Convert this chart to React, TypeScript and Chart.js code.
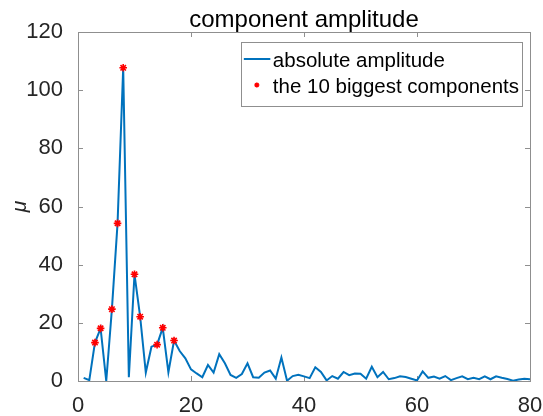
import React, { useEffect, useRef } from 'react';
import { Chart, registerables } from 'chart.js';

Chart.register(...registerables);

// Amplitude of harmonic k (k = 1..80)
const amplitude: number[] = [
  1.1, 0.3, 13.2, 18.1, 0.0, 24.7, 54.2, 107.7, 1.3, 36.7,
  22.1, 2.9, 11.8, 12.5, 18.3, 3.0, 13.9, 10.3, 7.8, 4.0,
  2.6, 1.3, 5.5, 2.9, 9.2, 6.1, 2.1, 1.1, 2.4, 6.1,
  1.3, 1.1, 2.9, 3.6, 0.8, 8.1, 0.1, 1.7, 2.1, 1.6,
  1.0, 4.7, 3.1, 0.2, 1.7, 0.8, 3.1, 2.0, 2.6, 2.5,
  0.8, 4.9, 1.3, 3.1, 0.6, 1.0, 1.6, 1.4, 0.8, 0.2,
  3.3, 1.1, 1.5, 0.8, 1.7, 0.3, 1.0, 1.6, 0.6, 1.1,
  0.6, 1.6, 0.6, 1.6, 1.1, 0.7, 0.1, 0.5, 0.8, 0.6,
];
const biggestHarmonics: number[] = [3, 4, 6, 7, 8, 10, 11, 14, 15, 17];
const xTicks: number[] = [0, 20, 40, 60, 80];
const yTicks: number[] = [0, 20, 40, 60, 80, 100, 120];

const titleText = 'component amplitude';
const yLabel = 'μ';
const lineLabel = 'absolute amplitude';
const starLabel = 'the 10 biggest components';

const FONT = '"Liberation Sans", Arial, Helvetica, sans-serif';
const LINE_COLOR = '#0072BD';
const STAR_COLOR = '#FF0000';
const AXIS_COLOR = '#8f8f8f';
const TEXT_COLOR = '#262626';

function drawStar(ctx: CanvasRenderingContext2D, x: number, y: number, r: number) {
  ctx.beginPath();
  ctx.moveTo(x - r, y);
  ctx.lineTo(x + r, y);
  ctx.moveTo(x, y - r);
  ctx.lineTo(x, y + r);
  const d = r * Math.SQRT1_2;
  ctx.moveTo(x - d, y - d);
  ctx.lineTo(x + d, y + d);
  ctx.moveTo(x - d, y + d);
  ctx.lineTo(x + d, y - d);
  ctx.stroke();
}

const boxPlugin = {
  id: 'matlabBox',
  beforeDatasetsDraw(chart: any) {
    const { ctx, chartArea, scales } = chart;
    const { left, right, top, bottom } = chartArea;
    ctx.save();
    ctx.strokeStyle = AXIS_COLOR;
    ctx.lineWidth = 1;
    ctx.strokeRect(Math.round(left) + 0.5, Math.round(top) + 0.5, Math.round(right - left), Math.round(bottom - top));
    const tl = 5;
    ctx.beginPath();
    xTicks.forEach((v) => {
      const px = Math.round(scales.x.getPixelForValue(v)) + 0.5;
      ctx.moveTo(px, bottom);
      ctx.lineTo(px, bottom - tl);
      ctx.moveTo(px, top);
      ctx.lineTo(px, top + tl);
    });
    yTicks.forEach((v) => {
      const py = Math.round(scales.y.getPixelForValue(v)) + 0.5;
      ctx.moveTo(left, py);
      ctx.lineTo(left + tl, py);
      ctx.moveTo(right, py);
      ctx.lineTo(right - tl, py);
    });
    ctx.stroke();
    ctx.restore();
  },
  afterDraw(chart: any) {
    const { ctx, chartArea } = chart;
    const ds = chart.data.datasets;
    ctx.save();
    ctx.font = `24px ${FONT}`;
    ctx.fillStyle = '#000000';
    ctx.textAlign = 'center';
    ctx.textBaseline = 'alphabetic';
    ctx.fillText(titleText, (chartArea.left + chartArea.right) / 2, 26.5);

    ctx.font = `20.5px ${FONT}`;
    const w1 = ctx.measureText(ds[0].label).width;
    const w2 = ctx.measureText(ds[1].label).width;
    const textOffset = 32;
    const boxW = textOffset + Math.max(w1, w2) + 3;
    const boxH = 64;
    const boxRight = Math.round(chartArea.right - 8.5);
    const boxTop = Math.round(chartArea.top + 9.5);
    const boxLeft = boxRight - boxW;
    ctx.fillStyle = '#ffffff';
    ctx.fillRect(boxLeft, boxTop, boxW, boxH);
    ctx.strokeStyle = AXIS_COLOR;
    ctx.lineWidth = 1;
    ctx.strokeRect(Math.round(boxLeft) + 0.5, boxTop + 0.5, Math.round(boxW), boxH);
    const y1 = boxTop + 17;
    const y2 = boxTop + 43;
    ctx.strokeStyle = LINE_COLOR;
    ctx.lineWidth = 2;
    ctx.beginPath();
    ctx.moveTo(boxLeft + 3, y1);
    ctx.lineTo(boxLeft + 29.5, y1);
    ctx.stroke();
    ctx.strokeStyle = STAR_COLOR;
    ctx.lineWidth = 1.5;
    drawStar(ctx, boxLeft + 16, y2, 2.5);
    ctx.fillStyle = '#000000';
    ctx.textBaseline = 'alphabetic';
    ctx.textAlign = 'left';
    ctx.fillText(ds[0].label, boxLeft + textOffset, y1 + 7.5);
    ctx.fillText(ds[1].label, boxLeft + textOffset, y2 + 7.5);
    ctx.restore();
  },
};

export default function App() {
  const canvasRef = useRef<HTMLCanvasElement | null>(null);

  useEffect(() => {
    if (!canvasRef.current) return;
    const lineData = amplitude.map((v, i) => ({ x: i + 1, y: v }));
    const starData = biggestHarmonics.map((k) => ({ x: k, y: amplitude[k - 1] }));
    const chart = new Chart(canvasRef.current, {
      type: 'line',
      data: {
        datasets: [
          {
            label: lineLabel,
            data: lineData,
            borderColor: LINE_COLOR,
            backgroundColor: LINE_COLOR,
            borderWidth: 2,
            pointRadius: 0,
            tension: 0,
            order: 2,
          },
          {
            label: starLabel,
            data: starData,
            showLine: false,
            pointStyle: 'star',
            pointRadius: 3.8,
            pointBorderWidth: 1.6,
            pointBorderColor: STAR_COLOR,
            pointBackgroundColor: STAR_COLOR,
            borderColor: STAR_COLOR,
            backgroundColor: STAR_COLOR,
            order: 1,
          },
        ],
      },
      options: {
        animation: false,
        responsive: false,
        devicePixelRatio: 1,
        layout: { padding: { left: 0, right: 13, top: 32, bottom: 0 } },
        plugins: {
          legend: { display: false },
          tooltip: { enabled: false },
          title: { display: false },
        },
        scales: {
          x: {
            type: 'linear',
            min: 0,
            max: 80,
            grid: { display: false },
            border: { display: false },
            afterBuildTicks: (scale: any) => {
              scale.ticks = xTicks.map((v) => ({ value: v }));
            },
            afterFit: (scale: any) => {
              scale.height = 35;
              scale.paddingLeft = 0;
              scale.paddingRight = 0;
            },
            ticks: {
              color: TEXT_COLOR,
              font: { family: FONT, size: 22 },
              padding: 4,
              maxRotation: 0,
              autoSkip: false,
            },
          },
          y: {
            type: 'linear',
            min: 0,
            max: 120,
            grid: { display: false },
            border: { display: false },
            afterBuildTicks: (scale: any) => {
              scale.ticks = yTicks.map((v) => ({ value: v }));
            },
            afterFit: (scale: any) => {
              scale.width = 78;
              scale.paddingTop = 0;
              scale.paddingBottom = 0;
            },
            ticks: {
              color: TEXT_COLOR,
              font: { family: FONT, size: 22 },
              padding: 7,
              autoSkip: false,
            },
            title: {
              display: true,
              text: yLabel,
              color: TEXT_COLOR,
              font: { family: FONT, size: 21, style: 'italic' },
              padding: { top: 8, bottom: 0 },
            },
          },
        },
      },
      plugins: [boxPlugin],
    });
    return () => chart.destroy();
  }, []);

  return (
    <div style={{ position: 'fixed', left: 0, top: 0, width: 543, height: 416, background: '#ffffff' }}>
      <canvas ref={canvasRef} width={543} height={416} style={{ width: 543, height: 416 }} />
    </div>
  );
}
